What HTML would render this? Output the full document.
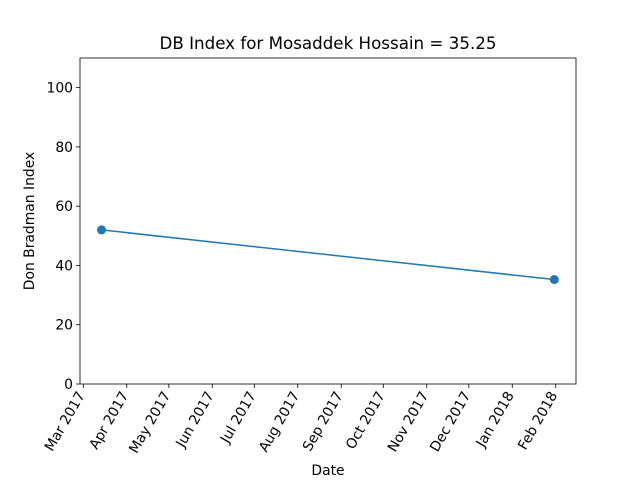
<!DOCTYPE html>
<html><head><meta charset="utf-8"><style>body{margin:0;background:#fff}svg{display:block;font-family:"DejaVu Sans","Liberation Sans",sans-serif}</style></head>
<body>
<svg id="chart" width="640" height="480">
<text x="328" y="49" font-size="16.7" text-anchor="middle">DB Index for Mosaddek Hossain = 35.25</text>
<text x="328" y="475" font-size="13.9" text-anchor="middle">Date</text>
<text transform="translate(34,221) rotate(-90)" font-size="13.9" text-anchor="middle">Don Bradman Index</text>
<g id="g"></g>
</svg>
<script>
const dates = ["2017-03-14", "2018-01-31"];
const values = [52, 35.25];
const yTicks = [0, 20, 40, 60, 80, 100];
const xTickLabels = ["Mar 2017","Apr 2017","May 2017","Jun 2017","Jul 2017","Aug 2017","Sep 2017","Oct 2017","Nov 2017","Dec 2017","Jan 2018","Feb 2018"];
const xTickDates = ["2017-03-01","2017-04-01","2017-05-01","2017-06-01","2017-07-01","2017-08-01","2017-09-01","2017-10-01","2017-11-01","2017-12-01","2018-01-01","2018-02-01"];

const L=80,R=576,T=58,B=384;
const d0=Date.parse("2017-03-01"), pxPerDay=1.4018, x0=83.3;
const xs=d=>x0+(Date.parse(d)-d0)/86400000*pxPerDay;
const ys=v=>B-(v/110)*(B-T);
const NS="http://www.w3.org/2000/svg";
const g=document.getElementById('g');
function mk(t,a){const e=document.createElementNS(NS,t);for(const k in a)e.setAttribute(k,a[k]);g.appendChild(e);return e;}

yTicks.forEach(v=>{
  const y=ys(v);
  const tk=mk('line',{x1:L-4,x2:L,y1:y,y2:y,stroke:'#000','stroke-width':0.8});
  
  
  const t=mk('text',{x:L-7,y:y+5,'font-size':13.9,'text-anchor':'end'});
  t.textContent=v;
  
  
});
xTickDates.forEach((d,i)=>{
  const x=xs(d);
  const tk=mk('line',{x1:x,x2:x,y1:B,y2:B+4,stroke:'#000','stroke-width':0.8});
  
  
  const t=mk('text',{'font-size':13.9,'text-anchor':'end',transform:`translate(${x+2},${B+11}) rotate(-60)`});
  t.textContent=xTickLabels[i];
  
  
});
const pts=dates.map((d,i)=>xs(d)+','+ys(values[i])).join(' ');
const pl=mk('polyline',{points:pts,fill:'none',stroke:'#1f77b4','stroke-width':1.5});


dates.forEach((d,i)=>{
  const c=mk('circle',{cx:xs(d),cy:ys(values[i]),r:4.5,fill:'#1f77b4'});
  
  
});
const fr=mk('rect',{x:L,y:T,width:R-L,height:B-T,fill:'none',stroke:'#000','stroke-width':0.8});


</script>
</body></html>
